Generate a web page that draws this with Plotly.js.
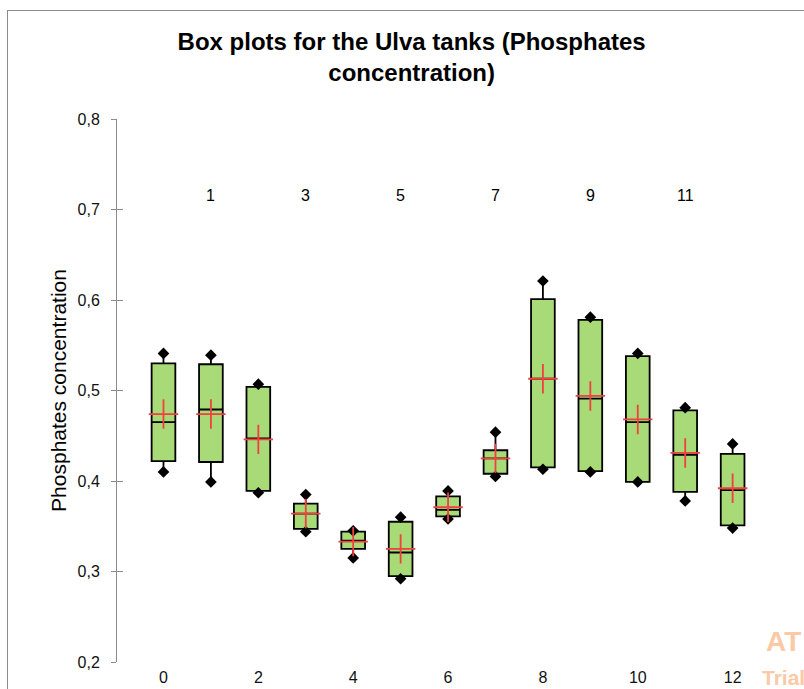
<!DOCTYPE html>
<html>
<head>
<meta charset="utf-8">
<script src="https://cdn.plot.ly/plotly-3.0.1.min.js"></script>
<style>
  html, body { margin: 0; padding: 0; background: #fff; }
  #wrap { position: relative; width: 804px; height: 689px; overflow: hidden; }
  #frame { position: absolute; left: 7px; top: 10px; width: 820px; height: 700px;
           border-left: 1px solid #8c8c8c; border-top: 1px solid #8c8c8c; pointer-events: none; z-index: 5; }
  #chart { position: absolute; left: 0; top: 0; width: 804px; height: 689px; }
</style>
</head>
<body>
<div id="wrap">
  <div id="chart"></div>
  <div id="frame"></div>
</div>
<script>
// Data
const tanks   = [0, 1, 2, 3, 4, 5, 6, 7, 8, 9, 10, 11, 12];
const minimum = [0.410, 0.399, 0.387, 0.344, 0.315, 0.292, 0.358, 0.405, 0.413, 0.410, 0.399, 0.378, 0.348];
const q1      = [0.422, 0.421, 0.389, 0.347, 0.325, 0.295, 0.361, 0.408, 0.415, 0.411, 0.399, 0.388, 0.351];
const median  = [0.465, 0.479, 0.447, 0.364, 0.334, 0.321, 0.368, 0.425, 0.513, 0.491, 0.465, 0.429, 0.390];
const q3      = [0.530, 0.529, 0.504, 0.375, 0.344, 0.355, 0.383, 0.434, 0.601, 0.578, 0.538, 0.478, 0.430];
const maximum = [0.541, 0.539, 0.507, 0.385, 0.345, 0.360, 0.389, 0.454, 0.621, 0.581, 0.541, 0.481, 0.441];
const means   = [0.474, 0.474, 0.446, 0.364, 0.333, 0.325, 0.371, 0.425, 0.513, 0.494, 0.468, 0.431, 0.392];
const bottomLabels = [0, 2, 4, 6, 8, 10, 12];
const topLabels    = [1, 3, 5, 7, 9, 11];
const topLabelLevel = 0.716;

const labelFamily = 'Liberation Sans Narrow, Arial Narrow, Liberation Sans, sans-serif';

const boxTrace = {
  type: 'box',
  x: tanks,
  q1: q1, median: median, q3: q3,
  lowerfence: minimum, upperfence: maximum,
  width: 0.5,
  whiskerwidth: 0,
  boxpoints: false,
  fillcolor: '#a8da78',
  line: { color: '#000000', width: 1.8 },
  hoverinfo: 'skip',
  showlegend: false
};

const extremes = {
  type: 'scatter', mode: 'markers',
  x: tanks.concat(tanks),
  y: minimum.concat(maximum),
  marker: { symbol: 'diamond', size: 9, color: '#000000' },
  hoverinfo: 'skip', showlegend: false
};

const meanTrace = {
  type: 'scatter', mode: 'markers',
  x: tanks, y: means,
  marker: { symbol: 'cross-thin', size: 21, color: '#f04040', line: { color: '#f04040', width: 1.8 } },
  hoverinfo: 'skip', showlegend: false
};

const annotations = topLabels.map(v => ({
  x: v, y: topLabelLevel, xref: 'x', yref: 'y',
  text: String(v), showarrow: false,
  font: { family: labelFamily, size: 16, color: '#000' }
}));
annotations.push({
  xref: 'paper', yref: 'paper', x: 1.0, y: 0.0, xanchor: 'left', yanchor: 'bottom',
  xshift: -17, yshift: 3,
  text: '<b>AT</b>', showarrow: false,
  font: { family: 'Liberation Sans, Arial, sans-serif', size: 28, color: '#fbc9a6' }
});
annotations.push({
  xref: 'paper', yref: 'paper', x: 1.0, y: 0.0, xanchor: 'left', yanchor: 'top',
  xshift: -21, yshift: -2,
  text: '<b>Trial</b>', showarrow: false,
  font: { family: 'Liberation Sans, Arial, sans-serif', size: 21, color: '#fbc9a6' }
});

const tickFont = { family: labelFamily, size: 16, color: '#111' };

const layout = {
  width: 804, height: 689,
  margin: { l: 117, r: 23, t: 119, b: 27 },
  paper_bgcolor: '#ffffff', plot_bgcolor: '#ffffff',
  separators: ',.',
  title: {
    text: '<b>Box plots for the Ulva tanks (Phosphates<br>concentration)</b>',
    font: { family: 'Liberation Sans, Arial, sans-serif', size: 24, color: '#000' },
    x: 0.512, xanchor: 'center', y: 0.927, yanchor: 'top'
  },
  xaxis: {
    range: [-0.98, 13.02],
    tickmode: 'array', tickvals: bottomLabels, ticktext: bottomLabels.map(String),
    showgrid: false, zeroline: false, showline: false, ticks: '',
    ticklabelstandoff: 4,
    tickfont: tickFont
  },
  yaxis: {
    range: [0.2, 0.8], dtick: 0.1, tick0: 0.2, tickformat: '.1f',
    showgrid: false, zeroline: false,
    showline: true, linecolor: '#8c8c8c', linewidth: 1,
    ticks: 'outside', ticklen: 5, tickcolor: '#8c8c8c', tickwidth: 1,
    ticklabelstandoff: 8,
    tickfont: tickFont,
    title: { text: 'Phosphates concentration', font: { family: 'Liberation Sans, Arial, sans-serif', size: 21, color: '#000' }, standoff: 5 }
  },
  yaxis2: {
    overlaying: 'y', side: 'left', anchor: 'x',
    range: [0.2, 0.8], dtick: 0.1, tick0: 0.2,
    showgrid: false, zeroline: false, showline: false,
    ticks: 'inside', ticklen: 6, tickcolor: '#8c8c8c', tickwidth: 1,
    showticklabels: false
  },
  annotations: annotations
};

const dummy = { type: 'scatter', mode: 'markers', x: [], y: [], yaxis: 'y2', showlegend: false, hoverinfo: 'skip' };

Plotly.newPlot('chart', [boxTrace, extremes, meanTrace, dummy], layout, { displayModeBar: false, staticPlot: true });
</script>
</body>
</html>
